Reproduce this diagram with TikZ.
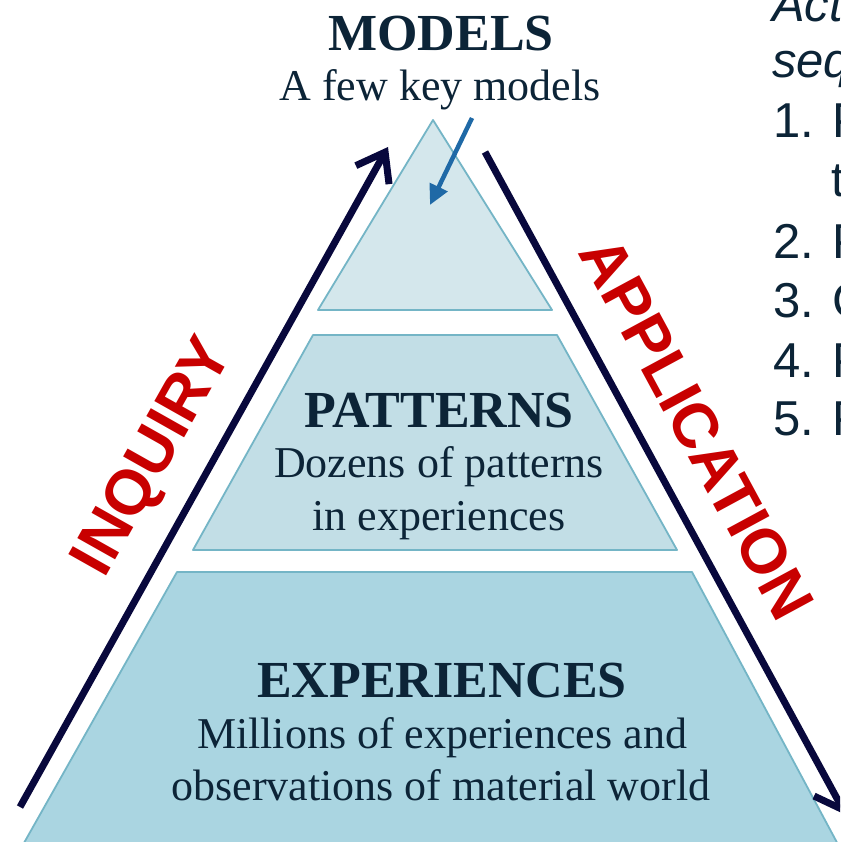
\documentclass[tikz,border=0pt]{standalone}
\usepackage{fontspec}
\setmainfont{Liberation Serif}
\newfontfamily\sansf{Liberation Sans}
\usetikzlibrary{arrows.meta}
\definecolor{txt}{HTML}{0C2437}
\definecolor{navy}{HTML}{08083C}
\definecolor{lred}{HTML}{C80000}
\definecolor{edge}{HTML}{74B5C6}
\definecolor{fillA}{HTML}{D4E7EC}
\definecolor{fillB}{HTML}{C2DEE6}
\definecolor{fillC}{HTML}{AAD5E1}
\definecolor{blueA}{HTML}{1F69A6}
\tikzset{
  layer/.style={draw=edge, line width=1.8pt, line join=round},
  ttl/.style={anchor=base, inner sep=0pt, text=txt, font=\bfseries\fontsize{52}{55}\selectfont},
  sub/.style={anchor=base, inner sep=0pt, text=txt, font=\fontsize{44}{50}\selectfont},
  bigarrow/.style={draw=navy, line width=7pt, -{Straight Barb[length=26pt,width=38pt]}},
  sidelabel/.style={inner sep=0pt, text=lred, font=\sansf\bfseries\fontsize{63}{66}\selectfont},
  righttext/.style={anchor=base west, inner sep=0pt, text=txt, font=\sansf\fontsize{49}{55}\selectfont}
}
\begin{document}
\begin{tikzpicture}[x=1pt,y=-1pt]
\useasboundingbox (0,0) rectangle (840,842);
\clip (0,0) rectangle (840,842);
\fill[white] (0,0) rectangle (840,842);
% pyramid layers
\draw[layer, fill=fillA] (433,120) -- (552,310) -- (318,310) -- cycle;
\draw[layer, fill=fillB] (313,335) -- (557,335) -- (677,550) -- (193,550) -- cycle;
\draw[layer, fill=fillC] (177,572) -- (692,572) -- (841,850) -- (20,850) -- cycle;
% texts
\node[ttl] (models) at (441,51) {MODELS};
\node[sub] (modelsub) at (440,101) {A few key models};
\node[ttl] (patterns) at (439,427) {PATTERNS};
\node[sub] (patsub1) at (439,477) {Dozens of patterns};
\node[sub] (patsub2) at (439,530) {in experiences};
\node[ttl] (exper) at (442,697) {EXPERIENCES};
\node[sub] (expsub1) at (442,748) {Millions of experiences and};
\node[sub] (expsub2) at (441,800) {observations of material world};
% arrows
\coordinate (iq0) at (20,807);
\coordinate (iq1) at (388,147);
\draw[bigarrow] (iq0) -- (iq1);
\coordinate (ap0) at (485,152);
\coordinate (ap1) at (846,815);
\draw[bigarrow] (ap0) -- (ap1);
\coordinate (bl0) at (472,118);
\coordinate (bl1) at (430,205);
\draw[blueA, line width=4.5pt, -{Triangle[length=20pt,width=19pt]}] (bl0) -- (bl1);
% side labels
\node[sidelabel, rotate=60.6] (inq) at (155,458) {INQUIRY};
\node[sidelabel, rotate=-61.6] (app) at (697,428) {APPLICATION};
% right text (cut off)
\node[righttext, font=\sansf\itshape\fontsize{49}{55}\selectfont] (r0) at (772,22) {Act};
\node[righttext, font=\sansf\itshape\fontsize{49}{55}\selectfont] (r1) at (772,78) {seq};
\node[righttext] (r2) at (773,138) {1. P};
\node[righttext] (r3) at (831,197) {t};
\node[righttext] (r4) at (773,258) {2. P};
\node[righttext] (r5) at (773,317) {3. C};
\node[righttext] (r6) at (773,377) {4. P};
\node[righttext] (r7) at (773,435) {5. P};
\end{tikzpicture}
\end{document}
